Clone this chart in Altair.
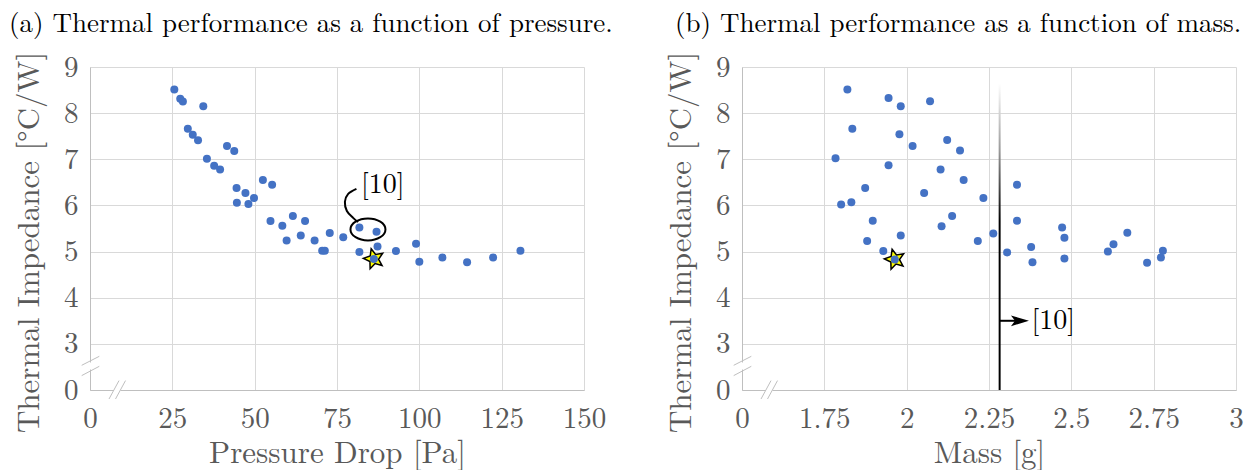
import math
import altair as alt
import pandas as pd

FONT = "Latin Modern Roman"
BLUE = "#4472C4"
GRID = "#d9d9d9"
DOMAIN = "#bfbfbf"
TEXT_GRAY = "#595959"

# ---------------- data: panel (a) ----------------
pressure_pa = [25.6, 27.4, 28.2, 34.4, 29.7, 31.2, 32.8, 41.6, 43.8, 35.5, 37.7, 39.5,
               44.5, 47.2, 49.8, 44.6, 48.1, 52.5, 55.3, 54.8, 58.4, 61.6, 65.3, 59.7, 64.0, 68.2,
               70.5, 71.3, 72.8, 76.9, 81.8, 87.0, 81.8, 87.3, 86.2, 92.9, 99.0, 100.0, 107.0,
               114.5, 122.4, 130.7]
impedance_a = [8.51, 8.31, 8.25, 8.15, 7.66, 7.53, 7.41, 7.29, 7.18, 7.01, 6.86, 6.78,
               6.38, 6.27, 6.16, 6.06, 6.03, 6.55, 6.45, 5.66, 5.56, 5.77, 5.66, 5.24, 5.35, 5.24,
               5.02, 5.02, 5.40, 5.31, 5.52, 5.43, 4.99, 5.11, 4.84, 5.01, 5.17, 4.78, 4.87,
               4.77, 4.87, 5.02]

# ---------------- data: panel (b) ----------------
mass_g = [1.820, 1.945, 1.982, 2.071, 1.835, 1.978, 2.018, 1.784, 1.945, 2.103, 1.874, 2.053,
          1.801, 1.832, 1.897, 2.106, 1.880, 1.982, 1.929, 1.964, 2.123, 2.162, 2.173, 2.233,
          2.335, 2.138, 2.335, 2.216, 2.263, 2.305, 2.378, 2.382, 2.472, 2.479, 2.479, 2.611,
          2.628, 2.670, 2.730, 2.772, 2.778]
impedance_b = [8.51, 8.33, 8.15, 8.26, 7.66, 7.54, 7.29, 7.02, 6.87, 6.78, 6.38, 6.27,
               6.02, 6.07, 5.67, 5.55, 5.23, 5.35, 5.01, 4.83, 7.42, 7.19, 6.55, 6.16,
               6.45, 5.77, 5.67, 5.23, 5.39, 4.98, 5.10, 4.77, 5.52, 5.30, 4.85, 5.00,
               5.16, 5.41, 4.76, 4.87, 5.02]

# selected design (star)
star_a_x, star_a_y = [86.2], [4.84]
star_b_x, star_b_y = [1.964], [4.83]

# axes
y_ticks = [2, 3, 4, 5, 6, 7, 8, 9]          # 2 is shown as "0" (broken axis)
x_ticks_a = [0, 25, 50, 75, 100, 125, 150]
x_ticks_b = [1.5, 1.75, 2, 2.25, 2.5, 2.75, 3]  # 1.5 is shown as "0" (broken axis)
y_domain = [2, 9]
x_domain_a = [0, 150]
x_domain_b = [1.5, 3]

# annotations
ref_label = ["[10]"]
ann_a_text_x, ann_a_text_y = [82.3], [6.45]
ellipse_x, ellipse_y = [84.4], [5.48]
hook_x = [80.9, 78.4, 77.4, 78.0, 79.9, 81.4]
hook_y = [6.36, 6.25, 6.08, 5.88, 5.73, 5.64]
ref_mass, ref_top = [2.2823], [8.64]
arrow_y, arrow_head_x, ann_b_text_x = [3.5], [2.344], [2.379]

W, H = 494, 323

titles = ["(a) Thermal performance as a function of pressure.",
          "(b) Thermal performance as a function of mass."]


def star_path(rot_deg=-15.0, inner=0.45):
    pts = []
    for i in range(10):
        r = 1.0 if i % 2 == 0 else inner
        a = math.radians(-90 + rot_deg + i * 36)
        pts.append(f"{r * math.cos(a):.3f},{r * math.sin(a):.3f}")
    return "M" + "L".join(pts) + "Z"


ELLIPSE = "M-1,0A1,0.63,0,1,1,1,0A1,0.63,0,1,1,-1,0Z"
ARROW = "M-1,-0.6L1,0L-1,0.6L-0.55,0Z"


def make_panel(xs, ys, sx, sy, x_dom, x_ticks, x_zero, x_title, title, title_dx, extras):
    xlab = f"datum.value == {x_zero} ? '0' : '' + datum.value"
    xax = alt.Axis(values=x_ticks, labelExpr=xlab, title=x_title, labelPadding=14,
                   labelFlush=False, labelOverlap=False, titleY=72, titleBaseline="alphabetic")
    yax = alt.Axis(values=y_ticks, labelExpr="datum.value == 2 ? '0' : '' + datum.value",
                   title="Thermal Impedance [°C/W]", labelPadding=12, labelFlush=False,
                   labelOverlap=False, titleX=-52, titleY=175, titleBaseline="alphabetic")
    xsc = alt.Scale(domain=x_dom, nice=False, zero=False)
    ysc = alt.Scale(domain=y_domain, nice=False, zero=False)

    def X(f="x"):
        return alt.X(f"{f}:Q", scale=xsc, axis=xax)

    def Y(f="y"):
        return alt.Y(f"{f}:Q", scale=ysc, axis=yax)

    # broken-axis marks, placed in data units from pixel offsets of the corner
    kx = (x_dom[1] - x_dom[0]) / W
    ky = (y_domain[1] - y_domain[0]) / H
    px = lambda p: x_dom[0] + p * kx
    py = lambda p: y_domain[0] + p * ky
    gaps = pd.DataFrame({"x": [px(0), px(24)], "x2": [px(0), px(30.5)],
                         "y": [py(20.5), py(0)], "y2": [py(27.5), py(0)]})
    slashes = pd.DataFrame({"x": [px(-8.3), px(-8.3), px(19), px(25.5)],
                            "x2": [px(9.3), px(9.3), px(29), px(35.5)],
                            "y": [py(24.7), py(14.4), py(-9), py(-9)],
                            "y2": [py(33.7), py(23.7), py(9.4), py(9.4)]})

    layers = []
    layers.append(alt.Chart(gaps).mark_rule(color="white", strokeWidth=4).encode(
        x=X(), x2="x2", y=Y(), y2="y2"))
    layers.append(alt.Chart(slashes).mark_rule(color=DOMAIN, strokeWidth=1).encode(
        x=X(), x2="x2", y=Y(), y2="y2"))
    layers += extras(X, Y, "pre")
    layers.append(alt.Chart(pd.DataFrame({"x": sx, "y": sy})).mark_point(
        shape=star_path(), size=440, filled=True, fill="#FFFF00", stroke="black",
        strokeWidth=1.5, opacity=1).encode(x=X(), y=Y()))
    layers.append(alt.Chart(pd.DataFrame({"x": xs, "y": ys})).mark_circle(
        size=64, color=BLUE, opacity=1).encode(x=X(), y=Y()))
    layers += extras(X, Y, "post")

    return alt.layer(*layers).properties(
        width=W, height=H,
        title=alt.Title(title, font=FONT, fontSize=27, color="black", fontWeight="normal",
                        anchor="start", frame="bounds", dx=title_dx, offset=-8,
                        baseline="alphabetic"))


def extras_a(X, Y, stage):
    if stage == "pre":
        return []
    return [
        alt.Chart(pd.DataFrame({"x": ellipse_x, "y": ellipse_y})).mark_point(
            shape=ELLIPSE, size=1225, filled=False, color="black", strokeWidth=2,
            opacity=1).encode(x=X(), y=Y()),
        alt.Chart(pd.DataFrame({"x": hook_x, "y": hook_y, "i": list(range(len(hook_x)))}))
        .mark_line(color="black", strokeWidth=2, interpolate="cardinal")
        .encode(x=X(), y=Y(), order="i:Q"),
        alt.Chart(pd.DataFrame({"x": ann_a_text_x, "y": ann_a_text_y, "t": ref_label}))
        .mark_text(font=FONT, fontSize=28, color="black", align="left", baseline="middle")
        .encode(x=X(), y=Y(), text="t:N"),
    ]


def extras_b(X, Y, stage):
    if stage == "post":
        return [
            alt.Chart(pd.DataFrame({"x": ann_b_text_x, "y": arrow_y, "t": ref_label}))
            .mark_text(font=FONT, fontSize=28, color="black", align="left", baseline="middle")
            .encode(x=X(), y=Y(), text="t:N"),
        ]
    grad = alt.Gradient(gradient="linear", x1=0, x2=0, y1=0, y2=1,
                        stops=[alt.GradientStop(color="#ffffff", offset=0),
                               alt.GradientStop(color="#999999", offset=0.22),
                               alt.GradientStop(color="#000000", offset=0.45),
                               alt.GradientStop(color="#000000", offset=1)])
    vline = pd.DataFrame({"x": [ref_mass[0] - 0.003], "x2": [ref_mass[0] + 0.003],
                          "y": [y_domain[0]], "y2": ref_top})
    arrow = pd.DataFrame({"x": ref_mass, "x2": arrow_head_x, "y": arrow_y})
    return [
        alt.Chart(vline).mark_rect(fill=grad).encode(x=X(), x2="x2", y=Y(), y2="y2"),
        alt.Chart(arrow).mark_rule(color="black", strokeWidth=2).encode(x=X(), x2="x2", y=Y()),
        alt.Chart(pd.DataFrame({"x": arrow_head_x, "y": arrow_y})).mark_point(
            shape=ARROW, size=324, filled=True, color="black", opacity=1).encode(x=X(), y=Y()),
    ]


panel_a = make_panel(pressure_pa, impedance_a, star_a_x, star_a_y, x_domain_a, x_ticks_a, 0,
                     "Pressure Drop [Pa]", titles[0], -4, extras_a)
panel_b = make_panel(mass_g, impedance_b, star_b_x, star_b_y, x_domain_b, x_ticks_b, 1.5,
                     "Mass [g]", titles[1], 10, extras_b)

chart = alt.hconcat(panel_a, panel_b, spacing=51).properties(
    padding={"left": 0, "top": 2, "right": 0, "bottom": 6}
).configure_view(
    strokeWidth=0
).configure_axis(
    grid=True, gridColor=GRID, gridWidth=1, domainColor=DOMAIN, domainWidth=1, ticks=False,
    labelFont=FONT, labelFontSize=29, labelColor=TEXT_GRAY, titleFont=FONT, titleFontSize=31,
    titleColor=TEXT_GRAY, titleFontWeight="normal", zindex=0
)

chart.save("out.html", embed_options={"renderer": "svg", "actions": False})
